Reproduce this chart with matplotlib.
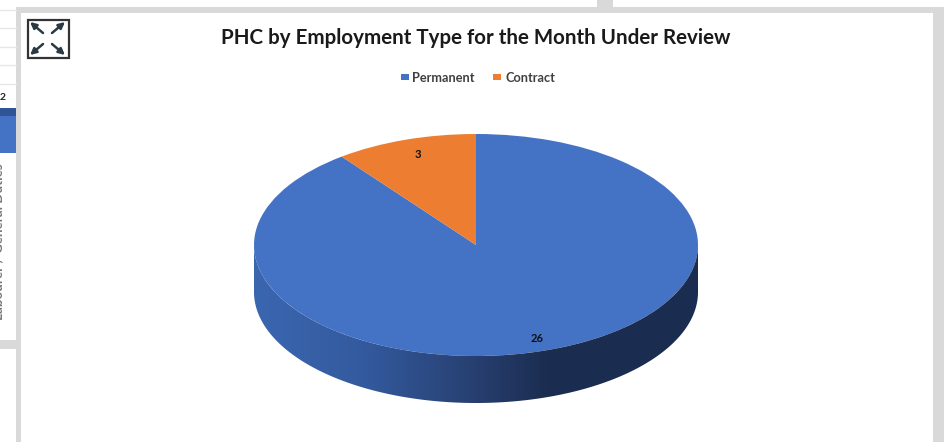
import matplotlib
matplotlib.use("Agg")
import matplotlib.pyplot as plt
import numpy as np
from matplotlib.colors import LinearSegmentedColormap
from matplotlib.patches import Rectangle, Polygon

categories = ["Permanent", "Contract"]
values = [26, 3]
colors = ["#4472C4", "#ED7D31"]
title = "PHC by Employment Type for the Month Under Review"

W, H = 944, 442
plt.rcParams["font.family"] = ["Lato", "DejaVu Sans"]
fig = plt.figure(figsize=(W / 100, H / 100), dpi=100, facecolor="white")

# pixel layer for the page around the chart
bg = fig.add_axes([0, 0, 1, 1])
bg.set_xlim(0, W)
bg.set_ylim(H, 0)
bg.axis("off")
grey = "#D9D9D9"
bg.add_patch(Rectangle((16, 7), 5, 435, fc=grey, lw=0))
bg.add_patch(Rectangle((16, 7), W - 16, 6, fc=grey, lw=0))
bg.add_patch(Rectangle((933, 7), W - 933, 435, fc=grey, lw=0))
bg.add_patch(Rectangle((597, 0), 16, 7, fc=grey, lw=0))

# left neighbour panel
bg.add_patch(Rectangle((0, 340), 16, 9, fc=grey, lw=0))
bg.add_patch(Rectangle((0, 108), 16, 8, fc="#2F5597", lw=0))
bg.add_patch(Rectangle((0, 116), 16, 37, fc="#4472C4", lw=0))
for y in [10, 28, 47, 65, 84]:
    bg.plot([0, 16], [y, y], color="#E6E6E6", lw=1)
bg.text(3, 98, "2", fontsize=7.5, fontweight="bold", ha="center", va="center", color="#222222")
bg.text(-1, 242, "Labourer / General Duties", fontsize=9.6, fontweight="bold", rotation=90,
        ha="center", va="center", color="#777777")

# expand icon
bg.add_patch(Rectangle((27.5, 19.5), 41, 38, fc="white", ec="#333333", lw=1.6))
dark = "#2B3A42"
for x0, y0, x1, y1 in [(43, 33, 30, 22), (52, 33, 65, 22), (43, 44, 30, 55), (52, 44, 65, 55)]:
    bg.annotate("", xy=(x1, y1), xytext=(x0, y0),
                arrowprops=dict(arrowstyle="-|>", color=dark, lw=1.8, mutation_scale=9, shrinkA=0, shrinkB=0))

bg.text(475.5, 38.5, title, fontsize=14.75, fontweight="bold", ha="center", va="center", color="#1A1A1A")

# legend
for name, col, sx, tx in zip(categories, colors, [401, 493], [412, 505]):
    bg.add_patch(Rectangle((sx, 74), 8, 6, fc=col, lw=0))
    bg.text(tx, 77.5, name, fontsize=9.2, fontweight="bold", ha="left", va="center", color="#404040")

# pie side wall, gradient clipped to the rim
cx, cy, rx, ry, depth = 476, 245, 222, 111, 47
t = np.linspace(0, np.pi, 200)
rim_x = cx + rx * np.cos(t)
rim_y = cy + ry * np.sin(t)
wall = np.r_[np.c_[rim_x, rim_y + depth], np.c_[rim_x[::-1], rim_y[::-1]]]
cmap = LinearSegmentedColormap.from_list("wall", [
    (0.0, "#3B66B0"), (0.25, "#335A9E"), (0.5, "#273F70"),
    (0.66, "#1B2D50"), (1.0, "#1A2C50")])
grad = bg.imshow(np.linspace(0, 1, 256)[None, :], extent=(cx - rx, cx + rx, cy + ry + depth, cy - ry),
                 cmap=cmap, aspect="auto", zorder=1)
clip = Polygon(wall, closed=True, transform=bg.transData, fc="none", lw=0)
bg.add_patch(clip)
grad.set_clip_path(clip)
bg.set_xlim(0, W)
bg.set_ylim(H, 0)

# pie top, squashed by giving the axes an elliptical box
ax = fig.add_axes([(cx - rx) / W, 1 - (cy + ry) / H, 2 * rx / W, 2 * ry / H])
ax.pie(values, colors=colors, startangle=90, counterclock=False, radius=1)
ax.set_aspect("auto")
ax.set_xlim(-1, 1)
ax.set_ylim(-1, 1)

bg.text(537, 338, str(values[0]), fontsize=8, fontweight="bold", ha="center", va="center",
        color="#111111", zorder=5)
bg.text(418, 154, str(values[1]), fontsize=8, fontweight="bold", ha="center", va="center",
        color="#111111", zorder=5)
bg.set_zorder(ax.get_zorder() + 1)
bg.patch.set_visible(False)

fig.savefig("out.png", dpi=100)
